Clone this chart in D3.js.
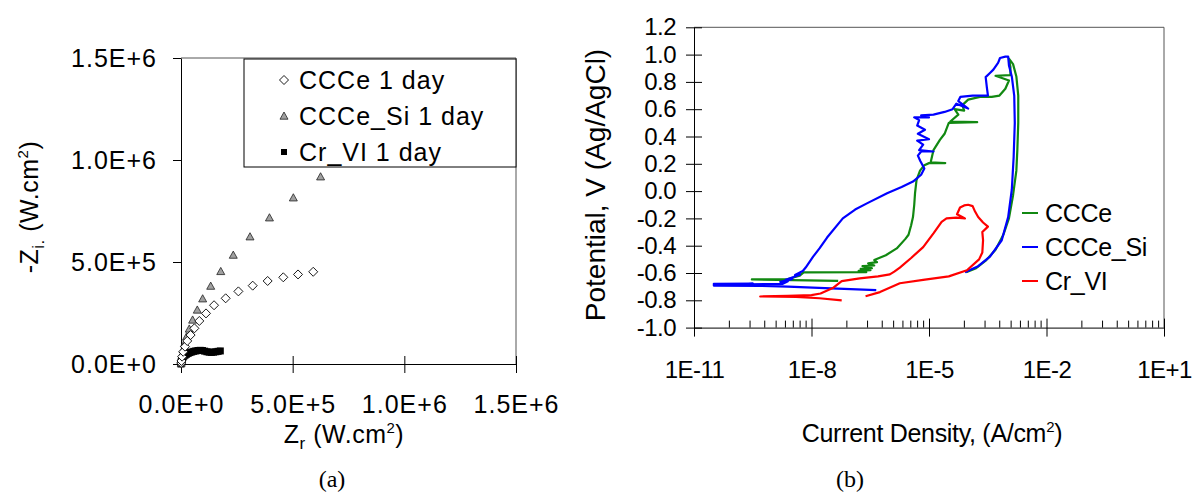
<!DOCTYPE html>
<meta charset="utf-8">
<script src="https://d3js.org/d3.v7.min.js"></script>
<style>
  body { margin: 0; background: #fff; }
  svg text { font-family: "Liberation Sans", Arial, sans-serif; fill: #000; }
</style>
<div id="chart"></div>
<script>
// ---------- data: panel (a), Nyquist plot (Zr, -Zi in ohm.cm2) ----------
var ccceZr   = [1000, 2000, 5000, 10000, 18000, 28000, 43000, 60000, 82000, 112000, 148000, 200000, 257000, 321000, 388000, 458000, 524000, 592000];
var ccceZi   = [5000, 15000, 36000, 60000, 85000, 113000, 142000, 175000, 211000, 248000, 288000, 322000, 356000, 384000, 407000, 425000, 439000, 452000];
var cceSiZr  = [1000, 3000, 6000, 10000, 16000, 25000, 37000, 52000, 73000, 97000, 133000, 178000, 234000, 309000, 396000, 503000, 625000];
var cceSiZi  = [5000, 20000, 44000, 72000, 101000, 134000, 172000, 216000, 265000, 320000, 382000, 454000, 534000, 624000, 717000, 815000, 918000];
var crviZr   = [0, 0, 1000, 2000, 3000, 5000, 7000, 10000, 14000, 19000, 25000, 32000, 40000, 48000, 57000, 66000, 76000, 86000, 96000, 106000, 116000, 126000, 136000, 146000, 156000, 166000, 176000];
var crviZi   = [0, 5000, 10000, 15000, 20000, 25000, 30000, 35000, 40000, 44000, 48000, 52000, 56000, 59000, 62000, 64000, 66000, 67000, 66000, 63000, 60000, 58000, 57000, 58000, 60000, 62000, 64000];
var nyqTicks  = [0, 500000, 1000000, 1500000];
var nyqLabels = ["0.0E+0", "5.0E+5", "1.0E+6", "1.5E+6"];
var nyqLegend = ["CCCe 1 day", "CCCe_Si 1 day", "Cr_VI 1 day"];

// ---------- data: panel (b), polarisation curves (A/cm2, V vs Ag/AgCl) ----------
var ccceI = [4.8e-8, 3.2e-9, 3.0e-10, 2.5e-9, 5.0e-9, 6.3e-9, 2.5e-7, 1.6e-7, 3.2e-7, 1.8e-7, 3.5e-7, 2.0e-7, 4.0e-7, 2.8e-7, 4.7e-7, 4.0e-7, 7.9e-7, 1.5e-6, 2.5e-6, 3.0e-6, 3.5e-6, 3.9e-6, 4.2e-6, 4.4e-6, 4.8e-6, 5.9e-6, 7.6e-6, 1.0e-5, 2.6e-5, 1.1e-5, 1.3e-5, 1.9e-5, 2.5e-5, 3.2e-5, 1.7e-4, 3.5e-5, 5.6e-5, 4.5e-5, 7.9e-5, 7.1e-5, 1.0e-4, 2.0e-4, 4.0e-4, 6.3e-4, 8.9e-4, 1.1e-3, 5.0e-4, 1.2e-3, 1.2e-3, 1.1e-3, 1.4e-3, 1.7e-3, 1.9e-3, 1.9e-3, 1.8e-3, 1.7e-3, 1.4e-3, 1.1e-3, 7.9e-4, 5.0e-4, 2.8e-4, 1.6e-4, 8.9e-5];
var ccceV = [-0.658, -0.652, -0.647, -0.644, -0.62, -0.595, -0.594, -0.585, -0.58, -0.57, -0.565, -0.55, -0.545, -0.53, -0.52, -0.505, -0.47, -0.42, -0.35, -0.32, -0.25, -0.19, -0.10, -0.015, 0.08, 0.15, 0.19, 0.205, 0.205, 0.21, 0.30, 0.375, 0.42, 0.50, 0.505, 0.51, 0.56, 0.60, 0.59, 0.63, 0.67, 0.69, 0.69, 0.70, 0.75, 0.81, 0.845, 0.85, 0.91, 0.97, 0.93, 0.84, 0.70, 0.50, 0.30, 0.15, -0.03, -0.20, -0.32, -0.43, -0.51, -0.565, -0.595];

var ccceSiI = [4.5e-7, 3.2e-8, 2.5e-9, 5.0e-10, 3.2e-11, 3.2e-10, 3.2e-11, 1.0e-9, 3.2e-11, 1.8e-9, 2.5e-9, 1.6e-9, 3.2e-9, 2.2e-9, 3.5e-9, 5.1e-9, 3.8e-9, 6.0e-9, 7.1e-9, 1.1e-8, 1.6e-8, 2.5e-8, 6.3e-8, 1.3e-7, 2.6e-7, 8.5e-7, 2.0e-6, 3.9e-6, 6.3e-6, 7.6e-6, 6.0e-6, 5.2e-6, 6.3e-6, 1.3e-5, 5.6e-6, 7.1e-6, 5.0e-6, 1.0e-5, 5.2e-6, 7.9e-6, 5.0e-6, 5.6e-6, 4.2e-6, 1.0e-5, 6.3e-6, 1.3e-5, 2.5e-5, 4.0e-5, 5.0e-5, 1.0e-4, 5.6e-5, 6.3e-5, 1.3e-4, 3.2e-4, 3.0e-4, 2.8e-4, 3.6e-4, 4.4e-4, 5.8e-4, 6.5e-4, 8.9e-4, 1.05e-3, 1.1e-3, 1.3e-3, 1.5e-3, 1.55e-3, 1.45e-3, 1.3e-3, 1.05e-3, 7.2e-4, 3.6e-4, 1.8e-4, 8.3e-5];
var ccceSiV = [-0.725, -0.712, -0.700, -0.694, -0.692, -0.678, -0.680, -0.684, -0.686, -0.680, -0.660, -0.665, -0.645, -0.650, -0.630, -0.610, -0.615, -0.585, -0.560, -0.480, -0.420, -0.340, -0.200, -0.135, -0.090, -0.015, 0.030, 0.070, 0.120, 0.165, 0.220, 0.260, 0.290, 0.290, 0.300, 0.340, 0.370, 0.380, 0.420, 0.450, 0.480, 0.520, 0.540, 0.540, 0.555, 0.560, 0.580, 0.600, 0.640, 0.605, 0.660, 0.690, 0.700, 0.700, 0.760, 0.835, 0.865, 0.890, 0.940, 0.975, 0.985, 0.985, 0.920, 0.840, 0.700, 0.500, 0.250, 0.010, -0.190, -0.360, -0.480, -0.550, -0.595];

var crviI = [5.9e-8, 1.6e-8, 4.0e-9, 4.9e-10, 2.5e-9, 1.0e-8, 1.7e-8, 3.5e-8, 5.9e-8, 1.7e-7, 5.0e-7, 1.0e-6, 1.3e-6, 1.8e-6, 3.5e-6, 7.1e-6, 1.3e-5, 2.1e-5, 2.8e-5, 5.0e-5, 8.3e-5, 5.2e-5, 6.2e-5, 7.9e-5, 1.0e-4, 1.3e-4, 1.5e-4, 1.8e-4, 2.4e-4, 3.2e-4, 2.3e-4, 2.4e-4, 2.3e-4, 1.9e-4, 9.3e-5, 3.2e-5, 7.1e-6, 1.8e-6, 5.6e-7, 2.4e-7];
var crviV = [-0.80, -0.785, -0.775, -0.772, -0.768, -0.762, -0.75, -0.71, -0.66, -0.64, -0.625, -0.61, -0.59, -0.56, -0.49, -0.41, -0.31, -0.225, -0.20, -0.195, -0.20, -0.17, -0.12, -0.105, -0.10, -0.11, -0.15, -0.19, -0.23, -0.26, -0.30, -0.36, -0.45, -0.50, -0.58, -0.625, -0.65, -0.675, -0.74, -0.77];

var potTicks    = [-1.0, -0.8, -0.6, -0.4, -0.2, 0.0, 0.2, 0.4, 0.6, 0.8, 1.0, 1.2];
var potLabels   = ["-1.0", "-0.8", "-0.6", "-0.4", "-0.2", "0.0", "0.2", "0.4", "0.6", "0.8", "1.0", "1.2"];
var curTicks    = [1e-11, 1e-8, 1e-5, 1e-2, 1e1];
var curLabels   = ["1E-11", "1E-8", "1E-5", "1E-2", "1E+1"];
var polLegend   = ["CCCe", "CCCe_Si", "Cr_VI"];
var polColors   = ["#118811", "#0000ff", "#ff0000"];

var svg = d3.select("#chart").append("svg")
    .attr("width", 1193)
    .attr("height", 495);

// =================== panel (a) ===================
var xA = d3.scaleLinear().domain([0, 1.5e6]).range([181, 516]);
var yA = d3.scaleLinear().domain([0, 1.5e6]).range([364, 58]);

// frame (top + right)
svg.append("path")
    .attr("d", "M" + xA(0) + "," + yA(1.5e6) + "H" + xA(1.5e6) + "V" + yA(0))
    .attr("fill", "none").attr("stroke", "#555").attr("stroke-width", 1);

var axA_y = svg.append("g")
    .attr("transform", "translate(" + xA(0) + ",0)")
    .call(d3.axisLeft(yA).tickValues(nyqTicks)
      .tickFormat(function(d, i) { return nyqLabels[i]; })
      .tickSize(8).tickSizeOuter(0).tickPadding(16));

var axA_x = svg.append("g")
    .attr("transform", "translate(0," + yA(0) + ")")
    .call(d3.axisBottom(xA).tickValues(nyqTicks)
      .tickFormat(function(d, i) { return nyqLabels[i]; })
      .tickSize(9).tickSizeOuter(0).tickPadding(22));
axA_x.selectAll(".tick line").attr("y1", -8);

[axA_y, axA_x].forEach(function(g) {
  g.selectAll("path, line").attr("stroke", "#000");
  g.selectAll("text").style("font-size", "25px").style("letter-spacing", "1px")
    .attr("font-family", null);
});

// markers
var diamond = "M0,-4.5L4.5,0L0,4.5L-4.5,0Z";
var triangle = "M0,-4L4,3.2L-4,3.2Z";

svg.append("g").selectAll("path")
  .data(d3.zip(crviZr, crviZi))
  .enter().append("rect")
    .attr("x", function(d) { return xA(d[0]) - 3.5; })
    .attr("y", function(d) { return yA(d[1]) - 3.5; })
    .attr("width", 7).attr("height", 7)
    .attr("fill", "#000");

svg.append("g").selectAll("path")
  .data(d3.zip(cceSiZr, cceSiZi))
  .enter().append("path")
    .attr("d", triangle)
    .attr("transform", function(d) { return "translate(" + xA(d[0]) + "," + yA(d[1]) + ")"; })
    .attr("fill", "#a0a0a0").attr("stroke", "#222").attr("stroke-width", 0.8);

svg.append("g").selectAll("path")
  .data(d3.zip(ccceZr, ccceZi))
  .enter().append("path")
    .attr("d", diamond)
    .attr("transform", function(d) { return "translate(" + xA(d[0]) + "," + yA(d[1]) + ")"; })
    .attr("fill", "#fff").attr("stroke", "#000").attr("stroke-width", 0.9);

// legend (a)
svg.append("rect")
    .attr("x", 244).attr("y", 59).attr("width", 272).attr("height", 108)
    .attr("fill", "#fff").attr("stroke", "#000").attr("stroke-width", 1);
var legA = svg.append("g").selectAll("g")
  .data(nyqLegend)
  .enter().append("g")
    .attr("transform", function(d, i) { return "translate(284," + (80 + i * 36) + ")"; });
legA.each(function(d, i) {
  var g = d3.select(this);
  if (i === 0) g.append("path").attr("d", diamond).attr("fill", "#fff").attr("stroke", "#000").attr("stroke-width", 0.9);
  if (i === 1) g.append("path").attr("d", triangle).attr("fill", "#a0a0a0").attr("stroke", "#222").attr("stroke-width", 0.8);
  if (i === 2) g.append("rect").attr("x", -3).attr("y", -3).attr("width", 6).attr("height", 6).attr("fill", "#000");
  g.append("text").attr("x", 15).attr("dy", "0.35em")
    .style("font-size", "25px").style("letter-spacing", "1px").text(d);
});

// axis titles (a)
var tA = svg.append("text")
    .attr("transform", "translate(38,207) rotate(-90)")
    .attr("text-anchor", "middle")
    .style("font-size", "25px").style("letter-spacing", "0.5px");
tA.append("tspan").text("-Z");
tA.append("tspan").attr("dy", 6).style("font-size", "17px").text("i.");
tA.append("tspan").attr("dy", -6).text(" (W.cm");
tA.append("tspan").attr("dy", -10).style("font-size", "15px").text("2");
tA.append("tspan").attr("dy", 10).text(")");

var tAx = svg.append("text")
    .attr("x", 344).attr("y", 443)
    .attr("text-anchor", "middle")
    .style("font-size", "25px").style("letter-spacing", "0.5px");
tAx.append("tspan").text("Z");
tAx.append("tspan").attr("dy", 6).style("font-size", "17px").text("r");
tAx.append("tspan").attr("dy", -6).text(" (W.cm");
tAx.append("tspan").attr("dy", -10).style("font-size", "15px").text("2");
tAx.append("tspan").attr("dy", 10).text(")");

svg.append("text").attr("x", 332).attr("y", 487).attr("text-anchor", "middle")
    .style("font-family", "'Liberation Serif', 'Times New Roman', serif")
    .style("font-size", "24px").text("(a)");

// =================== panel (b) ===================
var xB = d3.scaleLog().domain([1e-11, 10]).range([694, 1164]);
var yB = d3.scaleLinear().domain([-1, 1.2]).range([327.6, 27.3]);

svg.append("path")
    .attr("d", "M" + xB(1e-11) + "," + yB(1.2) + "H" + xB(10) + "V" + yB(-1))
    .attr("fill", "none").attr("stroke", "#555").attr("stroke-width", 1);

var axB_y = svg.append("g")
    .attr("transform", "translate(" + xB(1e-11) + ",0)")
    .call(d3.axisLeft(yB).tickValues(potTicks)
      .tickFormat(function(d, i) { return potLabels[i]; })
      .tickSize(8).tickSizeOuter(0).tickPadding(10));
axB_y.selectAll(".tick line").attr("x1", 8);

// minor log ticks: Excel style for base-1000 major unit
var minorTicks = [];
curTicks.slice(0, -1).forEach(function(t) {
  for (var k = 2; k <= 9; k++) minorTicks.push(t * Math.pow(k, 3));
});
svg.append("g").selectAll("line")
  .data(minorTicks)
  .enter().append("line")
    .attr("x1", function(d) { return xB(d); }).attr("x2", function(d) { return xB(d); })
    .attr("y1", yB(-1)).attr("y2", yB(-1) - 7)
    .attr("stroke", "#000");

var axB_x = svg.append("g")
    .attr("transform", "translate(0," + yB(-1) + ")")
    .call(d3.axisBottom(xB).tickValues(curTicks)
      .tickFormat(function(d, i) { return curLabels[i]; })
      .tickSize(9).tickSizeOuter(0).tickPadding(24));
axB_x.selectAll(".tick line").attr("y1", -9);

[axB_y, axB_x].forEach(function(g) {
  g.selectAll("path, line").attr("stroke", "#000");
  g.selectAll("text").style("font-size", "24px").style("letter-spacing", "-0.5px")
    .attr("font-family", null);
});

// curves
var line = d3.line()
    .x(function(d) { return xB(d[0]); })
    .y(function(d) { return yB(d[1]); });

var series = [d3.zip(ccceI, ccceV), d3.zip(ccceSiI, ccceSiV), d3.zip(crviI, crviV)];
svg.append("g").selectAll("path")
  .data(series)
  .enter().append("path")
    .attr("d", line)
    .attr("fill", "none")
    .attr("stroke", function(d, i) { return polColors[i]; })
    .attr("stroke-width", 2.2)
    .attr("stroke-linejoin", "round");

// legend (b)
var legB = svg.append("g").selectAll("g")
  .data(polLegend)
  .enter().append("g")
    .attr("transform", function(d, i) { return "translate(1022," + (213 + i * 34) + ")"; });
legB.append("line").attr("x1", 0).attr("x2", 16)
    .attr("stroke", function(d, i) { return polColors[i]; }).attr("stroke-width", 2);
legB.append("text").attr("x", 23).attr("dy", "0.35em")
    .style("font-size", "25px").style("letter-spacing", "-0.3px")
    .text(function(d) { return d; });

// axis titles (b)
svg.append("text")
    .attr("transform", "translate(605,185) rotate(-90)")
    .attr("text-anchor", "middle")
    .style("font-size", "28px")
    .text("Potential, V (Ag/AgCl)");

var tBx = svg.append("text")
    .attr("x", 932).attr("y", 442)
    .attr("text-anchor", "middle")
    .style("font-size", "25px").style("letter-spacing", "-0.3px");
tBx.append("tspan").text("Current Density, (A/cm");
tBx.append("tspan").attr("dy", -10).style("font-size", "15px").text("2");
tBx.append("tspan").attr("dy", 10).text(")");

svg.append("text").attr("x", 850).attr("y", 487).attr("text-anchor", "middle")
    .style("font-family", "'Liberation Serif', 'Times New Roman', serif")
    .style("font-size", "24px").text("(b)");
</script>
